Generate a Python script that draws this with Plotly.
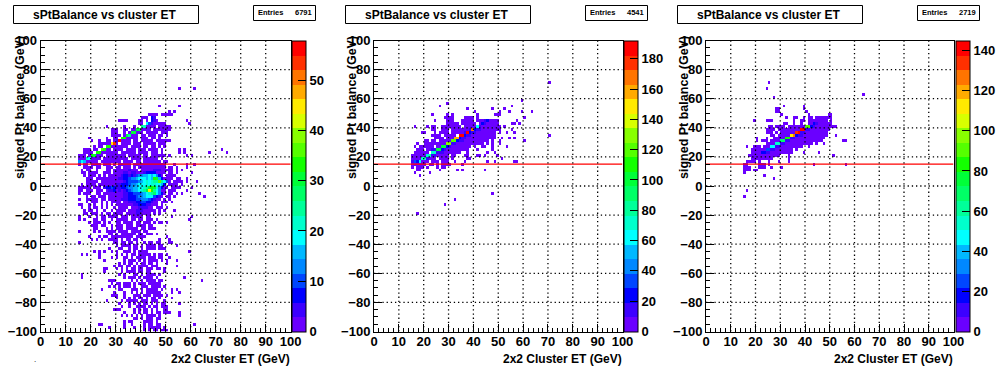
import plotly.graph_objects as go

# Values.  Rows are keyed by the lower edge of a 2 GeV y bin.
# Each segment is "first ET bin:levels"; a level is one of the 20 colour contours
# (1-9, a=10 ... k=20) and "." is an empty bin.
TITLE = "sPtBalance vs cluster ET"
ENTRIES = ["6791", "4541", "2719"]
ZMAX = [57.9, 192, 145]
CBAR_TICKS = [
    [0, 10, 20, 30, 40, 50],
    [0, 20, 40, 60, 80, 100, 120, 140, 160, 180],
    [0, 20, 40, 60, 80, 100, 120, 140],
]
CUT = 15
X_TICKS = list(range(0, 101, 10))
Y_TICKS = list(range(-100, 101, 20))

ROWS_1 = {
    66: "55:1 61:1",
    54: "47:1 55:1",
    50: "51:1 53:1",
    48: "43:1111 48:111 51:11",
    46: "40:1 41:11 44:32",
    44: "31:1111 39:11 42:1 44:32 46:1 58:1",
    42: "39:11 42:74 44:21 46:1111 49:1 59:1",
    40: "26:1 33:1 37:1 40:98 42:1111.11111 50:1",
    38: "28:111 33:11 36:11 38:bb 40:1111 45:111111 51:1",
    36: "28:111 33:1 35:1 36:bb 38:111.11111.111 50:1",
    34: "28:1111.11 34:b9 36:111 40:11.111.1 47:11 50:1",
    32: "19:1 26:1 29:11.1 32:cc 34:11 36:111 40:111 44:11 47:1",
    30: "20:1 23:1 26:11 29:1 30:2k 32:1111 37:11.1111 44:1.11 48:1111",
    28: "23:11 25:111 28:gj 30:1 32:1111.111.111 43:111 47:111",
    26: "21:1 23:11 26:cc 28:111 31:1111.1111.11.11 47:1.1",
    24: "17:111 21:11.1 24:dc 26:11.1 29:1111.1111 39:111.1111.1 48:1 55:1 57:1 72:1",
    22: "17:11 19:11 22:cc 24:111 27:1111.1 32:111111.1111.111 46:1.1 55:1 57:1 67:1 74:1",
    20: "15:11 17:1 19:1 20:cb 22:111.1111 28:111111.11111.11.111 47:111.1 58:1 60:1",
    18: "15:1 16:11 18:87 20:1111.1111 28:1111111.1111.111111.1",
    16: "15:5 16:76 18:1111 22:1.11 26:111111.111 36:1.11.1111111.11 49:11",
    14: "15:1.11.1111.111.1.11111.1111111111111...1....1 61:1",
    12: "15:..1111.11..111.11.111.1.11111111111.11.1 58:1",
    10: "15:.1.11..1...11.1111112111.1111122211111.1.1 56:1",
    8: "15:.11.1111..111.111122122111233331111.11.1.....1 60:1",
    6: "15:..1.111.1.1.1111123323245566767531.11.1 52:1",
    4: "15:...111.11111111122334556777676cb631111.11 58:1",
    2: "15:...11111.11111111123444456787899d9741.1111 58:1 62:1",
    0: "15:.1.1111.111111122333455677787887763.1111.1",
    -2: "15:11111.111.233432233455667789bcb85311.111 52:1 55:1 60:1",
    -4: "15:11.111.111.1223121234566789b 43:gc 45:97511.111 58:1",
    -6: "15:1.111..11.11111111223344456789a7531.11.1.1 63:1",
    -8: "15:...1.11.111.1111112233345567774321.11.1 65:1",
    -10: "15:1..11111.11.111112223334455543211.1.1",
    -12: "15:...1.111.1.1.1111.11222334433211.111.1",
    -14: "15:11..1.1..1.1.1.11111112233322111.1",
    -16: "16:1..1.11.1.1..1.1111.111222211.111.1",
    -18: "17:1.11.1..1..1.1111.11122211111.1.1 53:1",
    -20: "17:11.111.1.11.1111.1111221111.1.1",
    -22: "15:1...1..1.11.1111.111.11111.11 52:1 60:1",
    -24: "15:1.1...11.11..1.11111.11.11.111.1 59:1",
    -26: "19:1.111.1.1..11.1111.11.111.1.11.1",
    -28: "20:111.11..1.111.111.1111.11",
    -30: "21:11...1.1.111.11111.11.111",
    -32: "15:1.....1.1..1111.1111.1111.11",
    -34: "27:11.1.111111.11.111.1",
    -36: "19:1...1.11.111111111.1111 50:1",
    -38: "20:1.1.1..1111.1.11.11.1 47:1 51:1",
    -40: "15:1 29:11.11.11.1..1.11.1 47:1 51:11",
    -42: "30:1.1111.11.1.1111 47:11 54:1",
    -44: "27:1...11..1.11.1.1111.11 49:1",
    -46: "21:1.1.1..1.1..111.1.1111 59:1",
    -48: "16:1.1 23:1 30:1.1.1.11.11111.1.11 50:1",
    -50: "23:1 28:1.1 33:11.1.1111.111.11 51:1",
    -52: "25:1 33:1.111.1.1.1111.1.1 54:1",
    -54: "31:1.1.11.1.11.11.1 50:1",
    -56: "29:1.11.11.1.1111.111 54:1",
    -58: "25:11 30:1.1.1.11.11.111.11.1",
    -60: "25:1 32:1.1111.11.11 49:1",
    -62: "16:1 31:1.1 37:11.1.1111.1",
    -64: "16:1 33:1.111.1.1111.1 57:1",
    -66: "27:111 36:1.1.1.1111.11 64:1",
    -68: "28:1.11.1 33:111.1.111.11111",
    -70: "27:1 29:1.1.111.1 40:111.1111.1",
    -72: "24:1 31:11 36:111.1.11111.1 52:1 54:1",
    -74: "29:1 33:1 36:1.1.1.111111 52:1 55:1",
    -76: "28:111 33:1 37:111.111.1111 50:1",
    -78: "30:1 33:1.1.1.11.1.11.1 52:1",
    -80: "26:1 32:1.11111.111.111 49:1",
    -82: "31:1 35:1.1.1.11.1.1.1 49:1 55:1",
    -84: "32:1 35:1 38:1111.1.11.1 49:11",
    -86: "29:111 37:1.1 41:11.1.1 49:11",
    -88: "33:1 37:1.1.11.1.11.1 50:11 55:1",
    -90: "32:1.1 36:1.1.1 42:1111.1 55:1",
    -92: "37:11 40:1.111.11",
    -94: "33:1.11 41:1111.1",
    -96: "23:11 33:1 36:1 41:1.11.11 61:1",
    -98: "27:1 33:1 37:1 41:1.11111.1",
    -100: "41:1 43:1.11.111",
}

ROWS_2 = {
    70: "70:1",
    58: "59:1",
    56: "29:1",
    54: "26:1 55:1",
    52: "37:1 47:1 52:1",
    50: "40:1 50:1 54:1 59:1 63:1",
    48: "23:1 29:1 31:1 41:1 48:111",
    46: "28:111 31:1 36:1111 41:1 60:1",
    44: "24:1 29:111 35:11111 41:11 43:1 44:23 46:111 49:1 57:1",
    42: "29:11111 35:111111 42:1 43:32 45:1111 49:1 55:11 58:1",
    40: "16:1 21:1 23:11 27:1 28:1111111 36:1111 40:17 42:2111111 49:11 52:1",
    38: "23:11 27:111.11111111 38:2i 40:3221111111 50:1 55:1",
    36: "19:11 24:1 26:1111.111111 36:2k 38:32211111111 47:11 50:1 53:1 56:1",
    34: "23:1111 28:11111.1 34:kk 36:3221111111111 47:11 70:1",
    32: "24:1111.1111 32:hh 34:32211111111111 48:1 51:1 54:1 56:1",
    30: "20:11.11.11111 31:dd 33:3221111111111.1 50:1 60:1",
    28: "17:1 20:1111111111 29:ee 31:221111111111 43:1.1 47:1 50:1",
    26: "16:1.1 19:11111.11 27:bb 29:3211111111 40:1 43:11 47:1 53:1",
    24: "17:111 21:1122 25:bb 27:32111111111 41:1 47:1",
    22: "16:11 18:1111 23:88 25:2221111111 37:1 45:1 48:1",
    20: "15:11111 20:1 21:88 23:2211111.1 32:1 36:11 41:11 44:1 49:1",
    18: "15:1111 19:88 21:2111.1111 31:1 37:11 51:1",
    16: "15:2 16:43 18:7 19:111.111.111 32:1 36:1 45:1 48:1 56:11",
    14: "15:111111 22:11 25:1.11 29:11 35:1",
    12: "15:1 17:111 21:1 25:1 27:11",
    10: "17:11 26:1 33:1 35:1 44:1",
    8: "16:1 22:1",
    6: "18:1",
    -6: "47:1",
    -10: "32:1",
    -14: "28:1",
    -20: "17:1",
}

ROWS_3 = {
    70: "25:1",
    66: "24:1",
    62: "63:1",
    60: "27:1",
    54: "31:1 39:1",
    52: "28:11 39:1",
    50: "28:11 40:1",
    48: "30:1 41:1 49:11",
    46: "32:1 35:11 39:1 41:11 44:11111 49:11",
    44: "19:1 24:111 35:1 38:11 41:11 43:111111 50:1",
    42: "31:11 35:1 38:1 41:11 43:32 45:1 46:11111",
    40: "25:1 26:1.1 28:111 31:1 33:1111111 40:dd 42:3211111111 51:11",
    38: "24:111 27:1.1 30:11111111 38:kk 40:2211111111 49:1",
    36: "24:111 28:1 30:111111 36:jk 38:22111111111 48:1",
    34: "26:11 29:11111111 34:gi 36:322111111111 48:1 52:1",
    32: "20:1 24:1 27:1 28:1111 32:cc 34:2211111111111 47:1",
    30: "20:1 22:111 26:1111 30:aa 32:22111111111111 46:1 55:11",
    28: "24:1.1 25:111 28:88 30:2211111111111 44:1 47:1",
    26: "16:1 19:111 23:111 26:77 28:2211111 35:1111 41:1",
    24: "18:111 21:11 23:1 24:44 26:2211111 33:11.1 36:1",
    22: "18:1111 22:33 24:22111111 32:111 39:1 45:1",
    20: "17:11 19:11 21:11 23:111 26:1111 33:1 51:1",
    18: "18:111 21:111 24:111 33:1",
    16: "16:1111 18:11 21:1 25:1 29:1 33:1",
    14: "15:11 21:111 25:1 43:1 56:1",
    12: "15:11 17:1 21:111 26:1 30:1",
    10: "15:11 17:1 19:11",
    8: "15:1",
    6: "23:1",
    4: "27:1",
    -4: "16:1",
    -8: "15:1",
}

PALETTE = [
    "#6a00ff", "#3c00ff", "#0000ff", "#0046ff", "#0088ff",
    "#00b8ff", "#00ffff", "#00ffcc", "#00ff99", "#00ff66",
    "#00ff38", "#14ff00", "#55ff00", "#88ff00", "#d8ff00",
    "#ffea00", "#ffaa00", "#ff7400", "#ff3000", "#ff0000",
]
LEVEL_CHARS = "123456789abcdefghijk"


def grid_values(rows, zmax):
    z = [[None] * 100 for _ in range(100)]
    for y, text in rows.items():
        for seg in text.split():
            start, levels = seg.split(":")
            for k, ch in enumerate(levels):
                if ch == ".":
                    continue
                lev = LEVEL_CHARS.index(ch) + 1
                col = int(start) + k
                if 0 <= col < 100:
                    z[(y + 100) // 2][col] = (lev - 0.5) * zmax / 20
    return z


colorscale = []
for i, c in enumerate(PALETTE):
    colorscale += [[i / 20, c], [(i + 1) / 20, c]]

W, H = 996, 372
TOP, BOTTOM = 40.5, 331.5
PANELS = [
    dict(l=40.7, r=290.7, cb=292, title=(13.5, 198.5), stats=(253.5, 315.5), ytitle=20, rows=ROWS_1),
    dict(l=374, r=622.5, cb=624, title=(345.5, 530.5), stats=(585.5, 647.5), ytitle=352, rows=ROWS_2),
    dict(l=706, r=953.5, cb=956, title=(677.5, 862.5), stats=(917.5, 979.5), ytitle=684, rows=ROWS_3),
]
FONT = "Liberation Sans"

fig = go.Figure()
shapes, annotations = [], []
for n, p in enumerate(PANELS):
    ax = "" if n == 0 else str(n + 1)
    xa, ya = "x" + ax, "y" + ax
    zmax = ZMAX[n]
    fig.add_trace(go.Heatmap(
        z=grid_values(p["rows"], zmax), x0=0.5, dx=1, y0=-99, dy=2,
        xaxis=xa, yaxis=ya, zmin=0, zmax=zmax, colorscale=colorscale, hoverongaps=False,
        colorbar=dict(
            x=p["cb"] / W, xanchor="left", xpad=0, y=1 - BOTTOM / H, yanchor="bottom", ypad=0,
            lenmode="fraction", len=(BOTTOM - TOP) / H, thickness=14, thicknessmode="pixels",
            outlinewidth=1, outlinecolor="black", ticks="inside", ticklen=8, tickwidth=1,
            tickcolor="black", tickmode="array", tickvals=CBAR_TICKS[n],
            tickfont=dict(family=FONT, size=13, color="black", weight=700),
        ),
    ))
    fig.add_trace(go.Scatter(
        x=[0, 100], y=[CUT, CUT], mode="lines", line=dict(color="#ff0000", width=1.3),
        xaxis=xa, yaxis=ya, showlegend=False,
    ))
    axis_common = dict(
        showline=True, linecolor="black", linewidth=1, mirror=True, showgrid=False, zeroline=False,
        ticks="inside", tickcolor="black", tickwidth=1, ticklen=8, tickmode="array",
        tickfont=dict(family=FONT, size=13, color="black", weight=700),
    )
    fig.update_layout({
        "xaxis" + ax: dict(axis_common, domain=[p["l"] / W, p["r"] / W], range=[0, 100], anchor=ya,
                           tickvals=X_TICKS, ticklabelstandoff=-2,
                           minor=dict(ticks="inside", ticklen=4, tickcolor="black", dtick=2, tick0=0)),
        "yaxis" + ax: dict(axis_common, domain=[1 - BOTTOM / H, 1 - TOP / H], range=[-100, 100], anchor=xa,
                           tickvals=Y_TICKS,
                           minor=dict(ticks="inside", ticklen=4, tickcolor="black", dtick=5, tick0=0)),
    })
    grid = dict(color="black", width=1.3, dash="1.3px,2.9px")
    for v in X_TICKS[1:-1]:
        shapes.append(dict(type="line", xref=xa, yref=ya, x0=v, x1=v, y0=-100, y1=100, line=grid, layer="above"))
    for v in Y_TICKS[1:-1]:
        shapes.append(dict(type="line", xref=xa, yref=ya, x0=0, x1=100, y0=v, y1=v, line=grid, layer="above"))

    def box(x0, x1, y0, y1):
        shapes.append(dict(type="rect", xref="paper", yref="paper", x0=x0 / W, x1=x1 / W,
                           y0=1 - y1 / H, y1=1 - y0 / H, line=dict(color="black", width=1),
                           fillcolor="white", layer="above"))

    def label(text, x, y, size, xanchor="center", angle=0, yanchor="middle"):
        annotations.append(dict(text=text, xref="paper", yref="paper", x=x / W, y=1 - y / H, showarrow=False,
                                xanchor=xanchor, yanchor=yanchor, textangle=angle, borderpad=0,
                                font=dict(family=FONT, size=size, color="black", weight=700)))

    box(p["title"][0], p["title"][1], 5.5, 23.5)
    label(TITLE, (p["title"][0] + p["title"][1]) / 2 - 2, 15, 12)
    box(p["stats"][0], p["stats"][1], 5.5, 20.5)
    label("Entries", p["stats"][0] + 3, 12.5, 7.5, "left")
    label(ENTRIES[n], p["stats"][1] - 3, 12.5, 7.5, "right")
    label("signed Pt balance (GeV)", p["ytitle"], 108, 12.5, angle=-90)
    label("2x2 Cluster ET (GeV)", p["r"], 359, 12, "right")

annotations.append(dict(text=".", xref="paper", yref="paper", x=32 / W, y=1 - 366 / H, showarrow=False,
                        font=dict(family=FONT, size=8, color="black")))

fig.update_layout(
    width=W, height=H, margin=dict(l=0, r=0, t=0, b=0, pad=0, autoexpand=False), showlegend=False,
    paper_bgcolor="white", plot_bgcolor="white", shapes=shapes, annotations=annotations,
)
fig.write_html("out.html", config=dict(displayModeBar=False), post_script="document.body.style.margin='0';")
